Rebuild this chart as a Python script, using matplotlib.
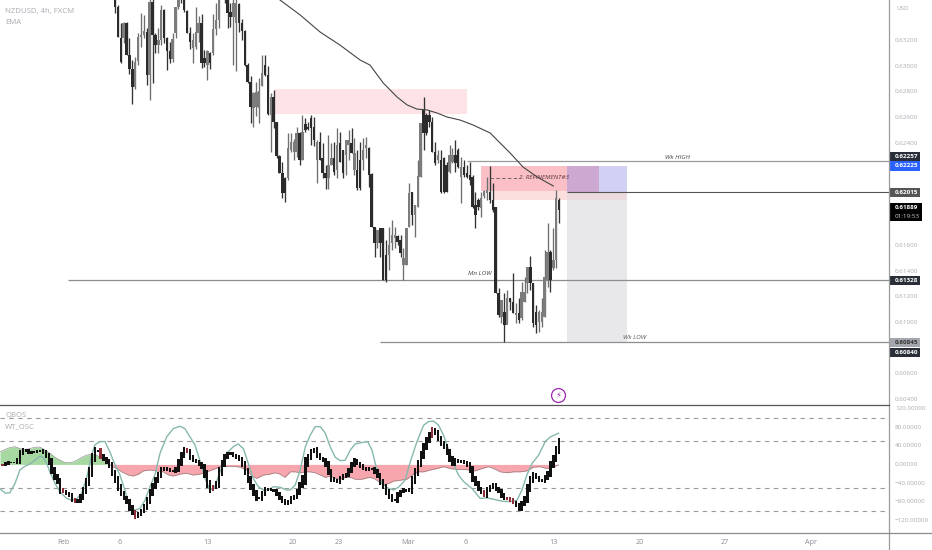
import matplotlib
matplotlib.use("Agg")
import matplotlib.pyplot as plt
from matplotlib.patches import Rectangle
from matplotlib.transforms import blended_transform_factory
import numpy as np

# 4h candles, in 1e-5 price units
highs = [63596,63479,63338,63346,63346,63221,63049,63073,63260,63416,63401,63299,63557,63557,63260,63299,63479,63448,63229,63190,
         63260,63463,63580,63612,63541,63440,63307,63260,63463,63393,63409,63127,63127,63112,63409,63495,63557,63596,63580,63541,
         63495,63541,63541,63495,63370,63284,63026,62924,62799,62877,62909,63088,63088,63002,62791,62815,62565,62307,62252,62135,
         62479,62479,62432,62526,62487,62620,62596,62565,62620,62604,62424,62487,62401,62229,62463,62401,62409,62518,62487,62346,
         62424,62502,62518,62440,62346,62409,62440,62448,62370,62166,61745,61721,61737,61737,61643,61745,61799,61745,61682,61682,
         61580,61737,62088,62018,61916,62268,62557,62760,62635,62659,62604,62409,62346,62346,62291,62252,62385,62362,62424,62362,
         62291,62268,62229,62252,62151,62018,61971,62018,62034,62135,62221,62088,61901,61268,61174,61229,61252,61190,61385,61151,
         61190,61315,61354,61432,61518,61307,61135,61096,61190,61565,61776,61565,61737,62034,61971]
lows = [63416,63229,63026,63182,63088,62940,62705,62823,63010,63151,63221,62854,62737,62870,63104,63104,63166,63182,62971,63026,
        63034,63221,63448,63495,63424,63260,63135,63026,63135,63190,62987,62995,62893,62979,63088,63245,63299,63534,63495,63299,
        63307,63010,62963,63268,63205,63002,62870,62557,62526,62612,62557,62846,62924,62620,62330,62518,62284,62166,61971,61940,
        62112,62330,62268,62291,62229,62268,62487,62502,62385,62377,62088,62268,62127,62041,62041,62229,62151,62127,62252,62127,
        62151,62268,62323,62151,62034,62034,62190,62284,62057,61745,61510,61580,61510,61330,61315,61409,61565,61580,61604,61510,
        61330,61448,61745,61760,61666,61901,62135,62346,62463,62526,62330,62229,62245,62010,62010,62018,62166,62245,62174,62205,
        61932,62135,62127,62073,61893,61737,61877,61823,61971,61955,61932,61862,61229,61041,60994,60846,60994,61096,61073,60994,
        60994,61018,61159,61229,61252,60963,60916,60924,60963,61041,61276,61237,61409,61424,61776]
opens = [63557,63463,63221,63221,63338,63088,62979,62838,63041,63229,63245,63268,62932,63502,63245,63166,63205,63440,63221,63120,
         63057,63260,63463,63596,63518,63432,63260,63143,63151,63260,63338,63065,63010,63104,63104,63291,63362,63580,63557,63534,
         63424,63385,63338,63487,63338,63276,63010,62877,62674,62682,62674,62846,63010,62932,62620,62760,62565,62299,62166,62127,
         62127,62346,62330,62330,62479,62268,62549,62526,62596,62526,62268,62409,62284,62166,62127,62229,62284,62190,62401,62346,
         62307,62385,62401,62190,62190,62268,62268,62362,62362,62159,61745,61620,61737,61737,61526,61526,61620,61659,61674,61643,
         61448,61448,61745,62018,61838,61901,62135,62659,62620,62620,62565,62330,62268,62268,62284,62229,62174,62252,62307,62346,
         62135,62213,62166,62151,62135,61916,61955,61893,61987,62010,62018,61955,61901,61229,61041,61080,60979,61190,61159,61057,
         61073,61034,61159,61307,61432,61307,61080,61002,61002,61041,61330,61549,61424,61487,61955]
closes = [63463,63229,63034,63338,63088,62979,62838,63034,63229,63245,63276,62932,63502,63245,63166,63205,63440,63221,63120,63057,
          63213,63463,63557,63518,63440,63260,63190,63205,63268,63338,63026,63026,63120,63026,63291,63362,63541,63541,63518,63416,
          63385,63495,63495,63338,63276,63010,62877,62682,62791,62799,62807,62948,62932,62627,62760,62565,62299,62166,62010,62010,
          62362,62409,62409,62479,62268,62487,62502,62510,62518,62424,62409,62268,62166,62127,62229,62284,62174,62385,62252,62166,
          62424,62424,62323,62323,62049,62049,62346,62385,62151,61745,61620,61721,61620,61330,61330,61604,61682,61682,61627,61541,
          61502,61737,62010,61838,61916,62143,62557,62479,62479,62565,62330,62245,62307,62018,62018,62018,62307,62307,62245,62213,
          62213,62151,62135,62112,61901,61838,61901,61971,62026,62034,61955,61877,61229,61057,61174,60979,61190,61159,61073,61073,
          61018,61237,61237,61432,61307,60994,60979,61080,61080,61354,61549,61330,61487,61971,61877]
candle_start = 39

ema_bar = [96.2,103.2,110.1,117.0,124.0,127.4,132.0,136.8,140.3,143.7,147.2,150.7,154.1,158.7,163.2,169.1,171.5,176.0,180.5,185.4,191.0]
ema_val = [.63518,.63401,.63268,.63166,.63049,.63010,.62870,.62760,.62698,.62666,.62659,.62635,.62604,.62580,.62541,.62479,.62424,.62323,.62213,.62135,.62065]

# oscillator, one value per bar
wt = [-1,2,4,4,4,9,24,31,29,25,26,27,29,29,26,19,6,-12,-26,-37,-55,-59,-62,-66,-75,-80,-78,-69,-55,-37,-16,13,29,29,18,12,6,-3,-18,-32,
      -49,-62,-72,-80,-93,-103,-112,-107,-100,-91,-77,-61,-47,-34,-23,-12,-9,-11,-14,-14,-9,4,20,31,27,16,9,6,1,-6,-21,-41,-54,-49,-41,-16,2,15,22,24,
      20,16,11,0,-16,-32,-48,-61,-73,-73,-62,-53,-54,-55,-57,-64,-72,-79,-84,-80,
      -73,-69,-59,-44,-30,2,16,27,31,20,13,9,-1,-16,-30,-34,-37,-30,-25,-21,-12,-1,8,2,-3,-9,-12,-9,-9,-16,-25,-37,-48,-59,-69,-77,-77,-66,-59,-55,
      -57,-54,-34,-16,2,20,38,52,63,74,67,56,45,38,27,13,2,9,6,7,4,-1,-12,-30,-41,-52,-59,-66,-55,-49,-44,-52,-57,-66,-73,-74,-77,-82,-87,-95,-84,-73,
      -52,-34,-23,-28,-34,-36,-28,-19,-1,13,31,49]
wt_red = [0,21,25,34,46,64,73,149,167,175,176,177]

teal_bar = [-1,1,2.5,4.3,6,7.7,9.5,11.2,13,14.1,15.3,16.4,18.2,19.9,22.2,23.9,25.7,27.4,29.1,30.9,32,33.8,35.5,37.2,39,40.7,42.4,44.2,45.9,47.6,
            49.4,51.1,52.8,54.6,56.9,59.2,61.5,63.2,65,66.7,68.4,70.2,71.9,73.6,75.4,77.7,80,81.7,83.5,85.2,86.9,88.7,90.4,92.1,93.9,96.2,98.5,
            99.8,101.5,103.2,105,106.7,108.4,110.2,111.9,113.6,115.4,117.1,118.8,120.6,122.3,124.6,126.6,128.1,129.8,131.5,133.9,135.6,137.3,139.6,141.4,
            143.7,146,147.7,149.5,151.2,152.9,154.7,156.4,158.1,159.9,162.8,165.6,168,170.3,173.2,176,178.4,180.1,181.8,183.6,185.9,188.2,189.9,192.8]
teal_val = [-52,-62,-61,-41,-12,-4,1,9,18,15,2,-16,-41,-59,-73,-77,-74,-62,-30,20,42,49,49,27,-1,-23,-55,-95,-98,-95,
            -77,-48,-23,24,59,77,82,77,59,42,9,-30,-55,-48,-16,24,38,44,34,2,-30,-48,-55,-55,-48,-49,-55,
            -55,-44,-12,38,63,81,81,67,38,15,8,9,31,44,47,49,31,-12,-41,-52,-55,-49,-34,6,
            49,84,92,93,84,63,31,2,-23,-37,-52,-73,-72,-75,-79,-80,-77,-55,-23,2,20,49,59,67]

band_bar = [-0.9,0.8,2.5,4.3,6,7.7,9.5,11.2,13,14.7,16.4,18.2,19.9,21.6,23.9,25.7,27.4,29.1,30.9,32.6,34.3,36.1,37.8,39.5,41.3,43.6,45.3,47.1,48.8,51.1,
            53.4,55.7,57.5,59.2,61.5,63.8,66.1,68.4,70.8,73.1,75.4,77.7,80,82.3,84.6,86.4,88.1,90.4,92.7,94.5,96.2,97.9,
            99.8,101.5,103.2,105,106.7,108.4,110.2,111.9,113.6,115.4,117.1,118.8,120.6,122.3,124.6,127,128.7,130.4,132.1,133.9,135.6,137.9,140.2,142.5,
            144.3,146,148.3,150.6,152.9,155.2,157.6,159.9,162.2,163.9,166.2,168.5,170.3,172.6,174.9,177.2,179.5,181.8,184.1,186.5,188.8,191.1,192.8]
band_val = [27,32,36,38,34,32,34,37,37,31,24,15,9,4,4,9,15,20,22,20,13,6,-4,-9,-16,-23,-25,-21,-14,-12,
            -14,-16,-23,-25,-21,-19,-23,-21,-16,-11,-5,-4,-4,-6,-12,-25,-30,-23,-21,-18,-21,-28,
            -16,-16,-18,-16,-16,-18,-23,-28,-25,-30,-32,-28,-28,-32,-32,-28,-30,-37,-44,-41,-36,-34,-32,-21,
            -16,-16,-12,-9,-5,-9,-11,-11,-12,-14,-9,-5,-9,-16,-18,-16,-16,-14,-6,-5,-9,-5,-1]

price_ticks = [0.632,0.630,0.628,0.626,0.624,0.616,0.614,0.612,0.610,0.606,0.604]
osc_ticks = [120,80,40,0,-40,-80,-120]
osc_levels = [100,50,-50,-100]
date_bars = [21,40.7,71,100.7,116.7,140.6,160.7,191,221,250.6,280.4]
date_labels = ["Feb","6","13","20","23","Mar","6","13","20","27","Apr"]

wk_high = 0.62257
mn_low = 0.61328
wk_low = 0.60845
entry = 0.62015
target = 0.62225
last_price = 0.61889

GREY_TXT = "#a9acb2"
DARK_TAG = "#2a2e39"

fig = plt.figure(figsize=(9.32, 5.5), dpi=100)
plt.rcParams["font.family"] = ["Open Sans", "DejaVu Sans"]
W, H = 932.0, 550.0
AX_R = 889.0
ax = fig.add_axes([0, 1 - 404.5 / H, AX_R / W, 404.5 / H])
osc = fig.add_axes([0, 1 - 533 / H, AX_R / W, 128.5 / H])

xlim = (-0.9, 307.4)
for a in (ax, osc):
    a.set_xlim(*xlim)
    a.set_xticks([])
    a.set_yticks([])
    for s in a.spines.values():
        s.set_visible(False)
    a.patch.set_alpha(0)
ax.set_ylim(0.60358, 0.63518)
osc.set_ylim(-147.4, 128.7)

# zones
ax.fill_between([94.5, 161.1], 0.62627, 0.62823, color="#fde3e6", lw=0, zorder=1)
ax.fill_between([165.9, 195.8], 0.62028, 0.62221, color="#fbc0c6", lw=0, zorder=1)
ax.fill_between([170.1, 195.8], 0.61956, 0.62028, color="#fbdede", lw=0, zorder=1)
ax.fill_between([195.8, 216.6], wk_low, entry, color="#e8e8eb", lw=0, zorder=1)
ax.fill_between([195.8, 216.6], 0.61956, entry, color="#ecdadf", lw=0, zorder=1)
ax.fill_between([195.8, 216.6], entry, target, color="#d2d0f3", lw=0, zorder=1)
ax.fill_between([195.8, 206.9], entry, target, color="#cda9d1", lw=0, zorder=1)

# levels
ax.hlines(wk_high, 161.1, xlim[1], color="#9a9a9a", lw=0.9, zorder=2)
ax.hlines(mn_low, 22.7, xlim[1], color="#8c8c8c", lw=0.9, zorder=2)
ax.hlines(wk_low, 130.9, xlim[1], color="#8c8c8c", lw=0.9, zorder=2)
ax.hlines(entry, 195.8, xlim[1], color="#555555", lw=0.8, zorder=2)
ax.hlines(0.62125, 169.1, 179.5, color="#555555", lw=0.6, linestyles=(0, (4, 3)), zorder=4)

# candles
o = np.array(opens) / 1e5
c = np.array(closes) / 1e5
h = np.array(highs) / 1e5
l = np.array(lows) / 1e5
bars = candle_start + np.arange(len(o))
up = c >= o
ax.vlines(bars[up], l[up], h[up], color="#6e6e6e", lw=0.95, zorder=3)
ax.vlines(bars[~up], l[~up], h[~up], color="#333333", lw=0.95, zorder=3)
ax.bar(bars[up], (c - o)[up], bottom=o[up], width=0.85, color="#7c7c7c", lw=0, zorder=3)
ax.bar(bars[~up], (o - c)[~up], bottom=c[~up], width=0.85, color="#2b2b2b", lw=0, zorder=3)

ax.plot(ema_bar, ema_val, color="#444444", lw=0.8, zorder=4)

# drawing texts
ax.text(5 / AX_R, 1 - 11 / 404.5, "NZDUSD, 4h, FXCM", transform=ax.transAxes, fontsize=5.6, color=GREY_TXT, va="center")
ax.text(5 / AX_R, 1 - 22 / 404.5, "EMA", transform=ax.transAxes, fontsize=5.6, color=GREY_TXT, va="center")
ax.text(229.8, 0.62290, "Wk HIGH", fontsize=4.6, style="italic", color="#444444", ha="left", va="center", zorder=5)
ax.text(161.5, 0.61385, "Mn LOW", fontsize=4.6, style="italic", color="#444444", ha="left", va="center", zorder=5)
ax.text(215.2, 0.60885, "Wk LOW", fontsize=4.6, style="italic", color="#555555", ha="left", va="center", zorder=5)
ax.text(179, 0.62135, "2. REFINEMENT#3", fontsize=4.6, style="italic", color="#553338", ha="left", va="center", zorder=5)

# lightning badge
ax.plot([192.6], [0.60432], marker="o", ms=10, mfc="white", mec="#9c27b0", mew=0.9, zorder=6, clip_on=False)
ax.text(192.6, 0.60432, "\u26a1", fontsize=6, color="#9c27b0", ha="center", va="center", zorder=7, family="DejaVu Sans")

# oscillator
wt_arr = np.array(wt, dtype=float)
osc.hlines(osc_levels, xlim[0], xlim[1], color="#9a9a9a", lw=0.8, linestyles=(0, (4, 4)), zorder=1)
band_x = np.array(band_bar)
band_y = np.array(band_val, dtype=float)
osc.fill_between(band_x, 0, band_y, where=band_y >= 0, interpolate=True, color="#a8d8a2", lw=0, zorder=2)
osc.fill_between(band_x, 0, band_y, where=band_y <= 0, interpolate=True, color="#f6a6ac", lw=0, zorder=2)
osc.plot(band_x, band_y, color="#6b6b6b", lw=0.5, alpha=0.7, zorder=2)
osc.plot(teal_bar, teal_val, color="#86b8ae", lw=1.0, zorder=3)

prev = np.r_[wt_arr[0], wt_arr[:-1]]
pad = 2 + 0.35 * np.abs(wt_arr - prev)
lo = np.minimum(prev, wt_arr) - pad
hi = np.maximum(prev, wt_arr) + pad
cols = ["#8f2f3c" if i in wt_red else "#111111" for i in range(len(wt_arr))]
osc.bar(np.arange(len(wt_arr)), hi - lo, bottom=lo, width=0.8, color=cols, lw=0, zorder=4)

osc.text(5 / AX_R, 1 - 11.5 / 128.5, "QBOS", transform=osc.transAxes, fontsize=5.6, color=GREY_TXT, va="center")
osc.text(5 / AX_R, 1 - 22.5 / 128.5, "WT_OSC", transform=osc.transAxes, fontsize=5.6, color=GREY_TXT, va="center")

# right scale
tr_main = blended_transform_factory(ax.transAxes, ax.transData)
tr_osc = blended_transform_factory(osc.transAxes, osc.transData)
tick_x = 1 + 6 / AX_R
for p in price_ticks:
    ax.text(tick_x, p, f"{p:.5f}", transform=tr_main, fontsize=4.5, color=GREY_TXT, va="center", clip_on=False)
for v in osc_ticks:
    label = f"{v:.5f}".replace("-", "\u2212")
    osc.text(tick_x, v, label, transform=tr_osc, fontsize=4.5, color=GREY_TXT, va="center", clip_on=False)
fig.text(896 / W, 1 - 8 / H, "USD", fontsize=4.5, color=GREY_TXT, va="center")


def tag(y_price, text, face, text_col, width=31, px_h=9, weight="bold"):
    hgt = px_h * 0.000078125
    ax.add_patch(Rectangle((1, y_price - hgt / 2), width / AX_R, hgt, transform=tr_main,
                           fc=face, ec="none", clip_on=False, zorder=8))
    ax.text(1 + 6 / AX_R, y_price, text, transform=tr_main, fontsize=4.5, color=text_col, fontweight=weight,
            va="center", clip_on=False, zorder=9)


tag(wk_high + 0.00037, f"{wk_high:.5f}", DARK_TAG, "white", px_h=8.5)
tag(target, f"{target:.5f}", "#2962ff", "white", px_h=10)
tag(entry, f"{entry:.5f}", "#555555", "white", px_h=9)
tag(last_price - 0.00025, "", "#000000", "white", width=33, px_h=18)
ax.text(1 + 6 / AX_R, last_price + 0.00010, f"{last_price:.5f}", transform=tr_main, fontsize=4.5, color="white",
        fontweight="bold", va="center", clip_on=False, zorder=9)
ax.text(1 + 6 / AX_R, last_price - 0.00060, "01:19:53", transform=tr_main, fontsize=4.5, color="#cccccc",
        va="center", clip_on=False, zorder=9)
tag(mn_low, f"{mn_low:.5f}", DARK_TAG, "white", px_h=8.5)
tag(wk_low, f"{wk_low:.5f}", "#a4a7ad", "#333333", px_h=9)
tag(0.60840 - 0.00075, "0.60840", DARK_TAG, "white", px_h=9)

# frame lines
fig.add_artist(plt.Line2D([AX_R / W, AX_R / W], [0, 1], color="#9a9a9a", lw=0.9))
fig.add_artist(plt.Line2D([0, AX_R / W], [1 - 404.5 / H, 1 - 404.5 / H], color="#555555", lw=0.9))
fig.add_artist(plt.Line2D([0, 1], [1 - 533 / H, 1 - 533 / H], color="#8c8c8c", lw=0.9))

# dates
for b, lab in zip(date_bars, date_labels):
    osc.text(b, -159.4, lab, fontsize=5.2, color="#888c94", ha="center", va="top", clip_on=False)

fig.savefig("out.png", dpi=100, facecolor="white")
